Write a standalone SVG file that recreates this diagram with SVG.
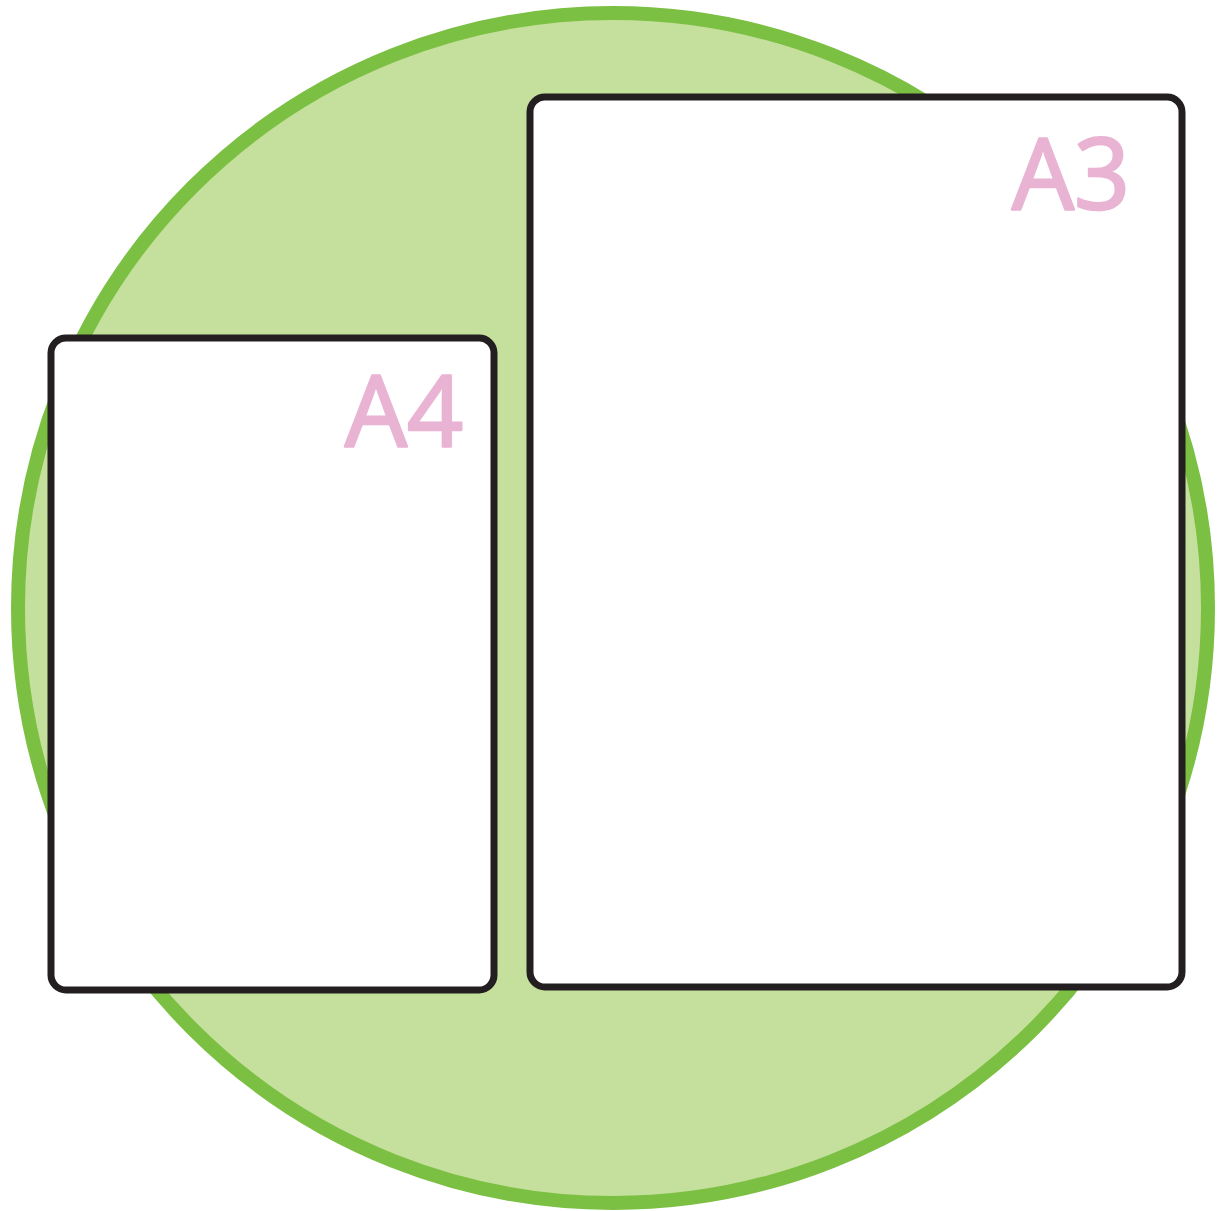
<svg xmlns="http://www.w3.org/2000/svg" width="1218" height="1211" viewBox="0 0 1218 1211">
<style>
.sheet{fill:#ffffff;stroke:#231f20;stroke-width:7}
.lbl{fill:#e9b3d3;stroke:#e9b3d3;stroke-width:2.5;stroke-linejoin:round;font-family:"Open Sans","Liberation Sans",sans-serif;font-size:98px;text-anchor:end}
</style>
<rect width="1218" height="1211" fill="#ffffff"/>
<g id="circle">
<circle cx="613" cy="608" r="595" fill="#c5e09c" stroke="#7bc043" stroke-width="14"/>
</g>
<g id="a4">
<rect class="sheet" x="51" y="338" width="443" height="652" rx="15"/>
<text class="lbl" x="463" y="446">A4</text>
</g>
<g id="a3">
<rect class="sheet" x="530" y="97" width="652" height="890" rx="15"/>
<text class="lbl" x="1130" y="209">A3</text>
</g>
<g id="connectors"/>
</svg>
